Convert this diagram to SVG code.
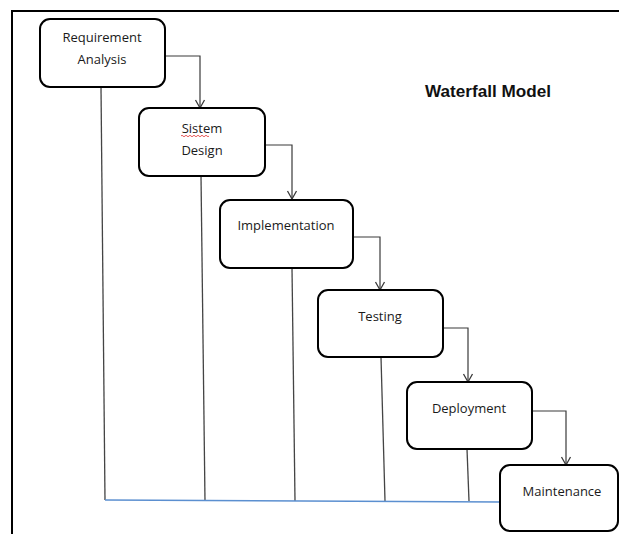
<svg xmlns="http://www.w3.org/2000/svg" width="619" height="534" viewBox="0 0 619 534">
<style>
.box{fill:#fff;stroke:#000;stroke-width:2}
.t{font-family:"Open Sans","Liberation Sans",sans-serif;font-size:13px;fill:#1a1a1a;text-anchor:middle}
.c{fill:none;stroke:#3a3a3a;stroke-width:1.2}
.v{fill:none;stroke:#444;stroke-width:1.3}
</style>
<defs>
<marker id="ah" markerWidth="12" markerHeight="12" refX="10" refY="6" orient="auto" markerUnits="userSpaceOnUse" viewBox="0 0 12 12">
<polyline points="2,1.5 10,6 2,10.5" fill="none" stroke="#3a3a3a" stroke-width="1.3"/>
</marker>
</defs>
<rect width="619" height="534" fill="#fff"/>
<path d="M12,534 V11 H619" fill="none" stroke="#000" stroke-width="2"/>
<text x="488" y="97" font-family="Liberation Sans,Arial,sans-serif" font-size="16.5" font-weight="bold" fill="#111" text-anchor="middle" textLength="126" lengthAdjust="spacingAndGlyphs">Waterfall Model</text>
<g id="connectors">
<path class="c" d="M165,56 H200 V108" marker-end="url(#ah)"/>
<path class="c" d="M265,145 H292 V199" marker-end="url(#ah)"/>
<path class="c" d="M353,237 H380 V290" marker-end="url(#ah)"/>
<path class="c" d="M443,328 H468 V382" marker-end="url(#ah)"/>
<path class="c" d="M532,411 H566 V465" marker-end="url(#ah)"/>
<path class="v" d="M101,87 L105,500"/>
<path class="v" d="M201,176 L205,501"/>
<path class="v" d="M292,268 L295,501"/>
<path class="v" d="M381,357 L385,501"/>
<path class="v" d="M467,449 L469,501"/>
<path d="M105,500 L500,502" fill="none" stroke="#5b8fd0" stroke-width="1.3"/>
</g>
<g id="requirement-analysis">
<rect class="box" x="40" y="19" width="125" height="68" rx="10"/>
<text class="t" x="102" y="42">Requirement</text>
<text class="t" x="102" y="64">Analysis</text>
</g>
<g id="sistem-design">
<rect class="box" x="139" y="108" width="126" height="68" rx="10"/>
<text class="t" x="202" y="133">Sistem</text>
<path d="M181,136 q1,-1.5 2,0 t2,0 t2,0 t2,0 t2,0 t2,0 t2,0 t2,0 t2,0 t2,0 t2,0 t2,0 t2,0 t2,0" fill="none" stroke="#e03030" stroke-width="0.8"/>
<text class="t" x="202" y="155">Design</text>
</g>
<g id="implementation">
<rect class="box" x="220" y="200" width="133" height="68" rx="10"/>
<text class="t" x="286" y="230">Implementation</text>
</g>
<g id="testing">
<rect class="box" x="318" y="290" width="125" height="67" rx="10"/>
<text class="t" x="380" y="321">Testing</text>
</g>
<g id="deployment">
<rect class="box" x="407" y="382" width="125" height="67" rx="10"/>
<text class="t" x="469" y="413">Deployment</text>
</g>
<g id="maintenance">
<rect class="box" x="500" y="465" width="118" height="66" rx="10"/>
<text class="t" x="562" y="496">Maintenance</text>
</g>
</svg>
